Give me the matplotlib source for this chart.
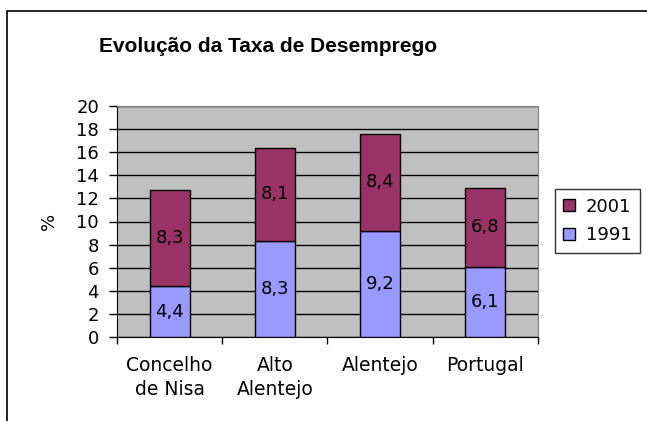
import matplotlib.pyplot as plt
import numpy as np
from matplotlib.patches import Rectangle

categories = ['Concelho\nde Nisa', 'Alto\nAlentejo', 'Alentejo', 'Portugal']
v1991 = [4.4, 8.3, 9.2, 6.1]
v2001 = [8.3, 8.1, 8.4, 6.8]
labels1991 = ['4,4', '8,3', '9,2', '6,1']
labels2001 = ['8,3', '8,1', '8,4', '6,8']
color_map = ["#9999FF", "#993366"]

plt.rcParams['font.family'] = ['DejaVu Sans']

fig = plt.figure(figsize=(6.47, 4.21), dpi=100)
W, H = 647, 421
ax = fig.add_axes([117 / W, 1 - 337 / H, (538 - 117) / W, (337 - 106) / H])

# outer chart border
fig.patches.append(Rectangle((7 / W, -0.01), 1.0, 1 - 11 / H + 0.01, transform=fig.transFigure,
                             fill=False, edgecolor='black', linewidth=1.2))

x = np.arange(len(categories))
b1 = ax.bar(x, v1991, 0.38, color=color_map[0], edgecolor='black', linewidth=1, zorder=3, label='1991')
b2 = ax.bar(x, v2001, 0.38, bottom=v1991, color=color_map[1], edgecolor='black', linewidth=1, zorder=3, label='2001')

for i in range(len(categories)):
    ax.text(x[i], v1991[i] / 2, labels1991[i], ha='center', va='center', fontsize=13, zorder=4)
    ax.text(x[i], v1991[i] + v2001[i] / 2, labels2001[i], ha='center', va='center', fontsize=13, zorder=4)

ax.set_facecolor('#C0C0C0')
ax.set_xlim(-0.5, len(categories) - 0.5)
ax.set_ylim(0, 20)
ax.set_yticks(range(0, 21, 2))
ax.tick_params(axis='y', labelsize=13, length=6, width=1, pad=7)
ax.yaxis.grid(True, color='black', linewidth=1, zorder=0)
ax.set_axisbelow(True)

ax.set_xticks(x)
ax.set_xticklabels(categories, fontsize=13.5, linespacing=1.3)
ax.tick_params(axis='x', length=0, pad=14)
ax.set_xticks(np.arange(-0.5, len(categories)), minor=True)
ax.tick_params(axis='x', which='minor', length=5, width=1)

for side in ['top', 'right']:
    ax.spines[side].set_color('#808080')
for side in ['left', 'bottom']:
    ax.spines[side].set_color('black')

ax.set_ylabel('%', fontsize=13, labelpad=13)
fig.text(268 / W, 1 - 47 / H, 'Evolução da Taxa de Desemprego', ha='center', va='center',
         fontsize=15, fontweight='bold', family='Liberation Sans')

leg = ax.legend(handles=[b2, b1], loc='center left', bbox_to_anchor=(555 / W, 1 - 221 / H),
                bbox_transform=fig.transFigure, fontsize=13, frameon=True, fancybox=False,
                edgecolor='black', handlelength=0.65, handleheight=0.65, handletextpad=0.6,
                borderpad=0.45, labelspacing=0.6, borderaxespad=0)
leg.get_frame().set_linewidth(1)

plt.savefig('out.png', dpi=100)
